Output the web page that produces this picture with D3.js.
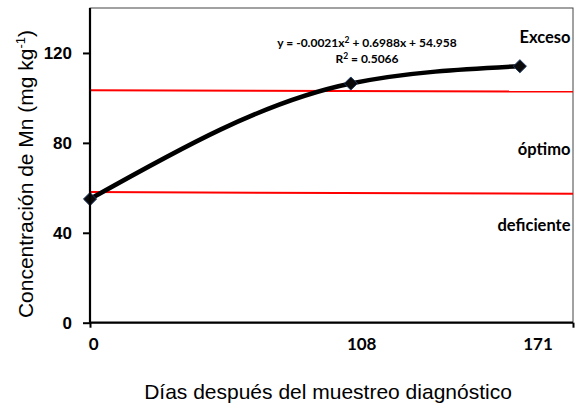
<!DOCTYPE html>
<html><head><meta charset="utf-8">
<script src="https://cdn.jsdelivr.net/npm/d3@7"></script>
<style>body{margin:0;background:#fff}svg{display:block}</style>
</head><body>
<svg id="c" width="575" height="412"></svg>
<script>
const days = [0, 108, 178];
const mn = [55, 106.4, 114.1];
const trendCoef = [-0.0021, 0.6988, 54.958];
const r2Value = "0.5066";
const upperLimit = [[0, 103.4], [200, 102.8]];
const lowerLimit = [[0, 58.1], [200, 57.4]];
const yTicks = [0, 40, 80, 120];
const xTickLabels = ["0", "108", "171"];
const xTickLabelPos = [1.5, 112.5, 185.5];
const zoneLabels = ["Exceso", "óptimo", "deficiente"];
const zoneLabelY = [124.5, 74.5, 41];

const svg = d3.select("#c");
const L = 90, R = 573, T = 8, B = 322.7;
const x = d3.scaleLinear().domain([0, 200]).range([L, R]);
const y = d3.scaleLinear().domain([0, 140]).range([B, T]);

// plot border
svg.append("rect").attr("x", L).attr("y", T).attr("width", R - L).attr("height", B - T)
  .attr("fill", "none").attr("stroke", "#444").attr("stroke-width", 1);

// red limit lines
[upperLimit, lowerLimit].forEach(d => {
  svg.append("path").datum(d)
    .attr("d", d3.line().x(p => x(p[0])).y(p => y(p[1])))
    .attr("stroke", "#ff0000").attr("stroke-width", 2).attr("fill", "none");
});

// smoothed line through the points
svg.append("path").datum(days.map((d, i) => [d, mn[i]]))
  .attr("d", d3.line().x(p => x(p[0])).y(p => y(p[1])).curve(d3.curveMonotoneX))
  .attr("stroke", "#000").attr("stroke-width", 4.5).attr("fill", "none").attr("stroke-linecap", "round");

// points
svg.selectAll(".pt").data(days).enter().append("path")
  .attr("transform", (d, i) => `translate(${x(d)},${y(mn[i])})`)
  .attr("d", d3.symbol(d3.symbolDiamond2, 110)())
  .attr("fill", "#0a0a0a").attr("stroke", "#1f3864").attr("stroke-width", 1);

// y axis
const ya = svg.append("g").attr("transform", `translate(${L},0)`)
  .call(d3.axisLeft(y).tickValues(yTicks).tickSize(7).tickPadding(11).tickFormat(d3.format("d")));
ya.select(".domain").attr("stroke-width", 2.2).attr("d", `M0,${T}V${B}`);
ya.selectAll(".tick line").attr("stroke-width", 2);
ya.selectAll(".tick text").attr("font-family", "Liberation Sans, Arial, sans-serif")
  .attr("font-size", 17).attr("font-weight", "bold").attr("fill", "#000");

// x axis
const xa = svg.append("g").attr("transform", `translate(0,${B})`)
  .call(d3.axisBottom(x).tickValues([0, 200]).tickSize(5).tickFormat(""));
xa.select(".domain").attr("stroke-width", 2.2).attr("d", `M${L},0H${R}`);
xa.selectAll(".tick line").attr("stroke-width", 2);

svg.selectAll(".xl").data(xTickLabels).enter().append("text")
  .attr("x", (d, i) => x(xTickLabelPos[i])).attr("y", 349.5)
  .attr("text-anchor", "middle").attr("font-family", "Lato, sans-serif")
  .attr("font-weight", "bold").attr("font-size", 17).text(d => d);

// zone labels
svg.selectAll(".zl").data(zoneLabels).enter().append("text")
  .attr("x", 570.5).attr("y", (d, i) => y(zoneLabelY[i]))
  .attr("text-anchor", "end").attr("font-family", "Lato, sans-serif")
  .attr("font-weight", "bold").attr("font-size", 16.5).text(d => d);

// equation
const eq = svg.append("text").attr("x", 367).attr("y", 47).attr("text-anchor", "middle")
  .attr("font-family", "Lato, sans-serif").attr("font-weight", "bold").attr("font-size", 12);
eq.append("tspan").text("y = " + trendCoef[0] + "x");
eq.append("tspan").attr("dy", -4.5).attr("font-size", 8.5).text("2");
eq.append("tspan").attr("dy", 4.5).text(" + " + trendCoef[1] + "x + " + trendCoef[2]);
const r2 = svg.append("text").attr("x", 367).attr("y", 63).attr("text-anchor", "middle")
  .attr("font-family", "Lato, sans-serif").attr("font-weight", "bold").attr("font-size", 12);
r2.append("tspan").text("R");
r2.append("tspan").attr("dy", -4.5).attr("font-size", 8.5).text("2");
r2.append("tspan").attr("dy", 4.5).text(" = " + r2Value);

// axis titles
svg.append("text").attr("x", 328).attr("y", 399).attr("text-anchor", "middle")
  .attr("font-family", "Liberation Sans, Arial, sans-serif").attr("font-size", 21)
  .text("Días después del muestreo diagnóstico");
const yt = svg.append("text").attr("transform", "translate(33,174) rotate(-90)")
  .attr("text-anchor", "middle").attr("font-family", "Liberation Sans, Arial, sans-serif")
  .attr("font-size", 21);
yt.append("tspan").text("Concentración de Mn (mg kg");
yt.append("tspan").attr("dy", -8).attr("font-size", 13).text("-1");
yt.append("tspan").attr("dy", 8).text(")");
</script>
</body></html>
